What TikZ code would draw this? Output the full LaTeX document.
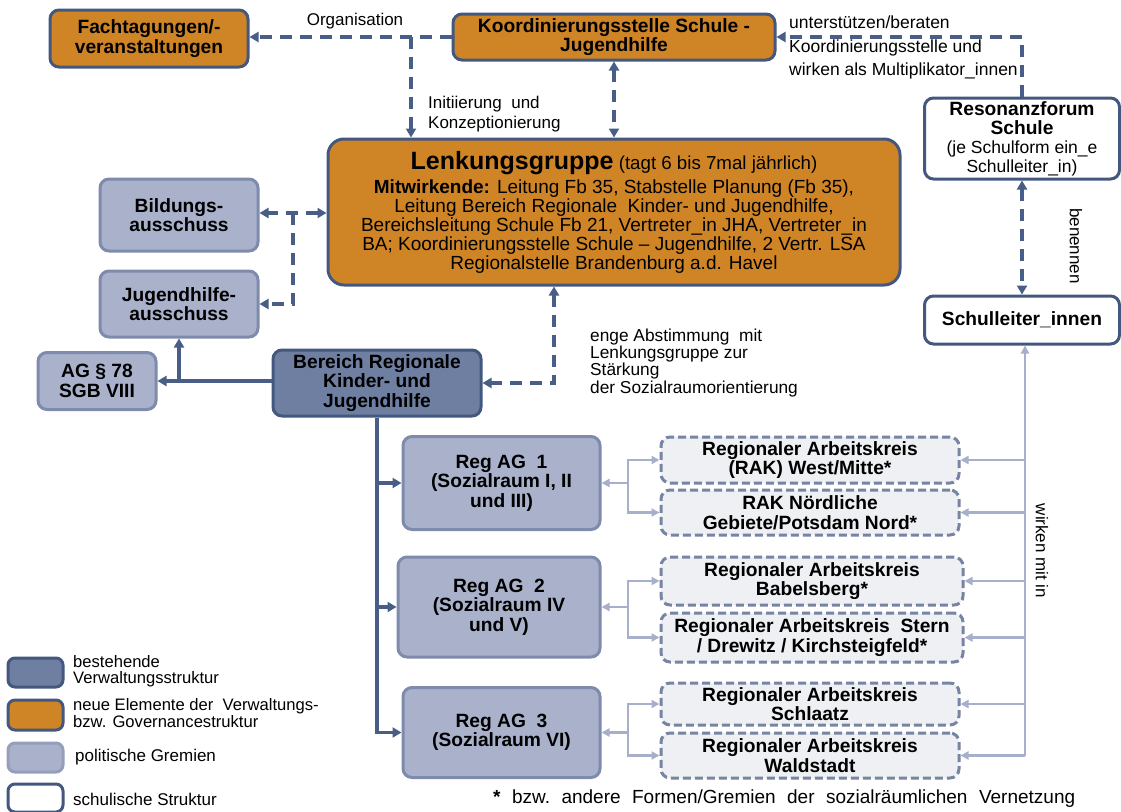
\documentclass[tikz,border=0pt]{standalone}
\usepackage{fontspec}
\setmainfont{Liberation Sans}
\usetikzlibrary{arrows.meta,calc}

\definecolor{orangeF}{HTML}{CF8526}
\definecolor{darkLine}{HTML}{44587F}
\definecolor{adminF}{HTML}{6E7FA2}
\definecolor{polF}{HTML}{A9B1CB}
\definecolor{polLine}{HTML}{7E8BAD}
\definecolor{rakF}{HTML}{EEF0F3}
\definecolor{rakLine}{HTML}{7884A3}
\definecolor{ltLine}{HTML}{A6B0CB}
\definecolor{arrDark}{HTML}{485E86}

\newcommand\boxfont{\fontsize{19.2}{19.5}\selectfont\bfseries}
\newcommand\bodyfont{\fontsize{19}{19}\selectfont}
\newcommand\lblfont{\fontsize{17}{17}\selectfont}

\tikzset{
  sz/.style 2 args={minimum width=#1, minimum height=#2},
  basebox/.style={rectangle, rounded corners=9pt, line width=3pt,
    align=center, inner sep=2pt, font=\boxfont},
  orangebox/.style={basebox, fill=orangeF, draw=darkLine},
  adminbox/.style={basebox, fill=adminF, draw=darkLine},
  polbox/.style={basebox, fill=polF, draw=polLine},
  schoolbox/.style={basebox, fill=white, draw=darkLine},
  rakbox/.style={basebox, fill=rakF, draw=rakLine, dash pattern=on 8pt off 4pt},
  tip/.tip={Triangle[length=9pt,width=10pt]},
  ltip/.tip={Triangle[length=8pt,width=8pt]},
  dk/.style={draw=arrDark, line width=3.2pt},
  dkdash/.style={dk, dash pattern=on 12pt off 8pt},
  lt/.style={draw=ltLine, line width=2.6pt},
  lbl/.style={inner sep=0pt, font=\lblfont, align=left},
}

\begin{document}
\begin{tikzpicture}[x=1pt, y=-1pt]
\useasboundingbox[fill=white] (0,0) rectangle (1121,811);

% ---------- boxes ----------
\node[orangebox, sz={198pt}{57pt}] (fach) at (149,38.5) {Fachtagungen/-\\veranstaltungen};
\node[orangebox, sz={322pt}{46pt}] (koord) at (614,37) {Koordinierungsstelle Schule -\\Jugendhilfe};
\node[orangebox, sz={572pt}{146pt}, rounded corners=16pt, font=\bodyfont, inner sep=4pt] (lenk) at (614,212)
  {{\fontsize{25}{26}\selectfont\bfseries Lenkungsgruppe} {\fontsize{18.7}{19}\selectfont (tagt 6 bis 7mal jährlich)}\\[4pt]
   {\bfseries Mitwirkende:} Leitung Fb 35, Stabstelle Planung (Fb 35),\\
   Leitung Bereich Regionale\ \ Kinder- und Jugendhilfe,\\
   Bereichsleitung Schule Fb 21, Vertreter\_in JHA, Vertreter\_in\\
   BA; Koordinierungsstelle Schule -- Jugendhilfe, 2 Vertr. LSA\\
   Regionalstelle Brandenburg a.d. Havel};

\node[polbox, sz={158pt}{72pt}] (bild) at (179,215) {Bildungs-\\ausschuss};
\node[polbox, sz={158pt}{66pt}] (jha) at (179,304) {Jugendhilfe-\\ausschuss};
\node[polbox, sz={118pt}{57pt}] (ag78) at (97,381) {AG § 78\\SGB VIII};
\node[adminbox, sz={208pt}{66pt}] (bereich) at (377,383) {Bereich Regionale\\Kinder- und\\Jugendhilfe};

\node[schoolbox, sz={195pt}{81pt}, font=\bodyfont] (reso) at (1022,138.5)
  {{\boxfont Resonanzforum}\\{\boxfont Schule}\\{\fontsize{17.5}{17}\selectfont (je Schulform ein\_e}\\{\fontsize{17.5}{17}\selectfont Schulleiter\_in)}};
\node[schoolbox, sz={195pt}{48pt}] (schul) at (1022,320) {Schulleiter\_innen};

\node[polbox, sz={197pt}{93pt}] (ag1) at (501.5,483) {Reg AG\ \ 1\\(Sozialraum I, II\\und III)};
\node[polbox, sz={202pt}{100pt}] (ag2) at (499,607) {Reg AG\ \ 2\\(Sozialraum IV\\und V)};
\node[polbox, sz={197pt}{90pt}] (ag3) at (501.5,732.5) {Reg AG\ \ 3\\(Sozialraum VI)};

\node[rakbox, sz={298pt}{46pt}] (rak1) at (810,460) {Regionaler Arbeitskreis\\(RAK) West/Mitte*};
\node[rakbox, sz={298pt}{45pt}] (rak2) at (810,512.5) {RAK Nördliche\\Gebiete/Potsdam\ Nord*};
\node[rakbox, sz={302pt}{48pt}] (rak3) at (812,581) {Regionaler Arbeitskreis\\Babelsberg*};
\node[rakbox, sz={302pt}{49pt}] (rak4) at (812,637.5) {Regionaler Arbeitskreis\ \ Stern\\/ Drewitz / Kirchsteigfeld*};
\node[rakbox, sz={298pt}{42pt}] (rak5) at (810,704) {Regionaler Arbeitskreis\\Schlaatz};
\node[rakbox, sz={298pt}{45pt}] (rak6) at (810,755.5) {Regionaler Arbeitskreis\\Waldstadt};

% ---------- dark dashed connectors ----------
\coordinate (jorg) at (411,37);
\draw[dkdash, -tip] (koord.west) -- (koord.west -| fach.east);
\draw[dkdash, -tip] (jorg) -- (jorg |- lenk.north);
\draw[dkdash, tip-tip] (koord.south) -- (koord.south |- lenk.north);
\draw[dkdash, -tip] (reso.north) |- (koord.east);
\draw[dkdash, tip-tip] (reso.south) -- (schul.north);

\coordinate (jpol) at (293,213);
\draw[dkdash, tip-tip] (jpol -| lenk.west) -- (jpol -| bild.east);
\draw[dkdash, -tip] (jpol) |- (jha.east);

\coordinate (jlenk) at (554,383);
\draw[dkdash, tip-tip] (jlenk |- lenk.south) |- (bereich.east);

% ---------- dark solid connectors ----------
\coordinate (jag) at (179,381);
\draw[dk, -tip] (ag78.east -| bereich.west) -- (ag78.east);
\draw[dk, -tip] (jag) -- (jha.south);
\draw[dk, -tip] (bereich.south) |- (ag3.west);
\draw[dk, -tip] (bereich.south |- ag1.west) -- (ag1.west);
\draw[dk, -tip] (bereich.south |- ag2.west) -- (ag2.west);

% ---------- light connectors ----------
\foreach \ag/\ra/\rb in {ag1/rak1/rak2, ag2/rak3/rak4, ag3/rak5/rak6}{
  \coordinate (split) at (628,0 |- \ag.east);
  \draw[lt, -ltip] (split) -- (\ag.east);
  \draw[lt, -ltip] (split) |- (\ra.west);
  \draw[lt, -ltip] (split) |- (\rb.west);
}
\coordinate (rline) at (1025,0);
\draw[lt, -ltip] (rline |- rak6.east) -- (rline |- schul.south);
\foreach \r in {rak1,rak2,rak3,rak4,rak5,rak6}{
  \draw[lt, -ltip] (rline |- \r.east) -- (\r.east);
}

% ---------- connector labels ----------
\node[lbl] (torg) at (355,21) {Organisation};
\node[lbl, anchor=north west, font=\fontsize{17}{19.5}\selectfont] (tini) at (428,96) {Initiierung\ \ und\\Konzeptionierung};
\node[lbl, anchor=north west, font=\fontsize{17.5}{23.5}\selectfont] (tunt) at (789,16) {unterstützen/beraten\\Koordinierungsstelle und\\wirken als Multiplikator\_innen};
\node[lbl, rotate=-90] (tben) at (1076,246) {benennen};
\node[lbl, anchor=north west, font=\fontsize{17.3}{15.8}\selectfont] (tabs) at (590,329) {enge Abstimmung\ \ mit\\Lenkungsgruppe zur\\Stärkung\\der Sozialraumorientierung};
\node[lbl, rotate=-90] (twir) at (1042,551) {wirken mit in};
\node[lbl, anchor=west, font=\fontsize{19}{19}\selectfont] (tfoot) at (493,799) {\makebox[582pt][s]{{\bfseries *} bzw.\ andere Formen/Gremien der sozialräumlichen Vernetzung}};

% ---------- legend ----------
\node[adminbox, sz={55pt}{29pt}, rounded corners=7pt] (leg1) at (35.5,672.5) {};
\node[orangebox, sz={55pt}{30pt}, rounded corners=7pt] (leg2) at (35.5,715) {};
\node[polbox, sz={55pt}{29pt}, rounded corners=7pt, draw=polF!80!darkLine] (leg3) at (35.5,757.5) {};
\node[schoolbox, sz={55pt}{28pt}, rounded corners=7pt] (leg4) at (35.5,798) {};
\node[lbl, anchor=west, font=\fontsize{16.6}{16.5}\selectfont] (tleg1) at (73,671) {bestehende\\Verwaltungsstruktur};
\node[lbl, anchor=west, font=\fontsize{16.6}{16.5}\selectfont] (tleg2) at (73,713) {neue Elemente der\ \ Verwaltungs-\\bzw. Governancestruktur};
\node[lbl, anchor=west] (tleg3) at (75,757) {politische Gremien};
\node[lbl, anchor=west] (tleg4) at (73,799) {schulische Struktur};
\end{tikzpicture}
\end{document}
